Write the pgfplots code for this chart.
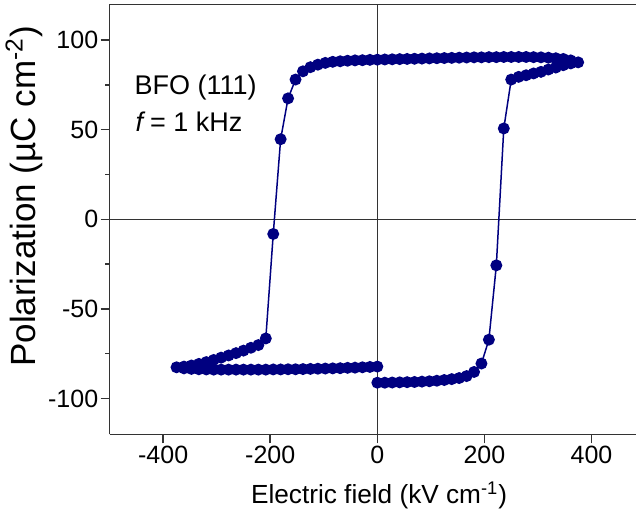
\documentclass[border=0pt]{standalone}
\usepackage{fontspec}
\setmainfont{Liberation Sans}
\usepackage{pgfplots}
\pgfplotsset{compat=1.18}
\definecolor{loopblue}{RGB}{0,0,128}
\definecolor{axisgray}{RGB}{51,51,51}

\begin{document}
\begin{tikzpicture}
\begin{axis}[
    at={(0,0)}, anchor=south west,
    scale only axis,
    width=263.2bp, height=215bp,
    xmin=-500, xmax=483, ymin=-120, ymax=120,
    axis x line=box, axis y line=left,
    axis line style={-, axisgray, line width=0.75bp},
    xtick={-400,-200,...,400},
    ytick={-100,-50,...,100},
    minor ytick={-75,-25,25,75},
    tick align=outside, tick pos=left,
    major tick length=4.5bp, minor tick length=2.2bp,
    every tick/.append style={axisgray, line width=0.75bp},
    extra x ticks={0}, extra x tick labels={},
    extra x tick style={grid=major, major tick length=0pt},
    extra y ticks={0}, extra y tick labels={},
    extra y tick style={grid=major, major tick length=0pt},
    major grid style={axisgray, line width=0.75bp},
    /pgf/number format/assume math mode=true,
    ticklabel style={font=\fontsize{12.5bp}{14bp}\selectfont},
    xticklabel style={inner ysep=1bp},
    yticklabel style={inner xsep=1bp},
    xlabel={Electric field (kV cm\textsuperscript{-1})},
    ylabel={Polarization (µC cm\textsuperscript{-2})},
    xlabel style={at={(axis description cs:0.512,0)}, anchor=base, yshift=-34.35bp,
        font=\fontsize{13.1bp}{15bp}\selectfont},
    ylabel style={at={(axis description cs:-0.1417,0.553)}, anchor=base,
        font=\fontsize{17.5bp}{19bp}\selectfont},
]
\addplot[color=loopblue, line width=0.75bp, mark=*, mark size=2.6bp,
    mark options={fill=loopblue, draw=loopblue}] coordinates {
    (0.0,-91.2) (13.9,-91.2) (27.8,-91.1) (41.7,-91.0) (55.6,-90.9)
    (69.4,-90.8) (83.3,-90.6) (97.2,-90.4) (111.1,-90.1) (125.0,-89.7)
    (138.9,-89.2) (152.8,-88.6) (166.7,-87.5) (180.6,-85.2) (194.4,-80.5)
    (208.3,-67.2) (222.2,-25.7) (236.1,50.7) (250.0,78.0) (263.9,79.5)
    (277.8,80.4) (291.7,81.4) (305.6,82.3) (319.4,83.6) (333.3,84.7)
    (347.2,86.0) (361.1,87.0) (375.0,87.6)
    (361.1,88.7) (347.2,89.5) (333.3,89.9) (319.4,90.2) (305.6,90.4)
    (291.7,90.5) (277.8,90.6) (263.9,90.6) (250.0,90.6) (236.1,90.6)
    (222.2,90.5) (208.3,90.5) (194.4,90.4) (180.6,90.4) (166.7,90.3)
    (152.8,90.2) (138.9,90.1) (125.0,90.0) (111.1,89.9) (97.2,89.8)
    (83.3,89.7) (69.4,89.6) (55.6,89.5) (41.7,89.4) (27.8,89.3)
    (13.9,89.2) (0.0,89.1) (-13.9,89.0) (-27.8,88.8) (-41.7,88.7)
    (-55.6,88.5) (-69.4,88.2) (-83.3,87.9) (-97.2,87.3) (-111.1,86.3)
    (-125.0,84.9) (-138.9,82.6) (-152.8,78.0) (-166.7,67.5) (-180.6,44.7)
    (-194.4,-8.2) (-208.3,-66.5) (-222.2,-70.2) (-236.1,-71.7) (-250.0,-73.3)
    (-263.9,-74.7) (-277.8,-76.0) (-291.7,-77.2) (-305.6,-78.5) (-319.4,-79.7)
    (-333.3,-80.7) (-347.2,-81.6) (-361.1,-82.2) (-375.0,-82.6)
    (-361.1,-83.2) (-347.2,-83.5) (-333.3,-83.7) (-319.4,-83.8) (-305.6,-83.9)
    (-291.7,-83.9) (-277.8,-83.9) (-263.9,-83.9) (-250.0,-83.9) (-236.1,-83.9)
    (-222.2,-83.9) (-208.3,-83.9) (-194.4,-83.8) (-180.6,-83.8) (-166.7,-83.7)
    (-152.8,-83.7) (-138.9,-83.6) (-125.0,-83.5) (-111.1,-83.4) (-97.2,-83.3)
    (-83.3,-83.2) (-69.4,-83.1) (-55.6,-82.9) (-41.7,-82.8) (-27.8,-82.6)
    (-13.9,-82.4) (0.0,-82.2)
};
\node[anchor=base west, inner sep=0pt, font=\fontsize{13.5bp}{15bp}\selectfont]
    at (axis cs:-454,69.4) {BFO (111)};
\node[anchor=base west, inner sep=0pt, font=\fontsize{13.5bp}{15bp}\selectfont]
    at (axis cs:-452,48.9) {\textit{f}\,= 1 kHz};
\end{axis}
\pgfresetboundingbox
\path[use as bounding box] (-54.8bp,-48.35bp) rectangle (263.2bp,217.15bp);
\end{tikzpicture}
\end{document}
